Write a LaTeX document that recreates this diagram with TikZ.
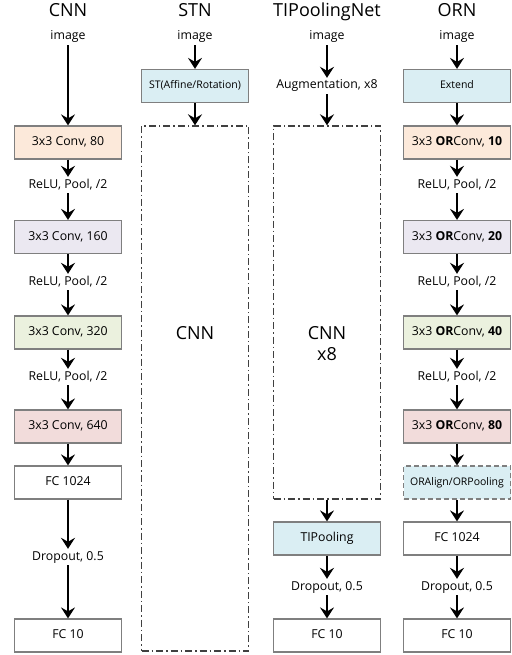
\documentclass[tikz,border=0pt]{standalone}
\usepackage{fontspec}
\setmainfont{Open Sans}
\usepackage{xcolor}
\usepackage{tikz}
\usetikzlibrary{arrows.meta}

\definecolor{boxgray}{HTML}{7F7F7F}
\definecolor{framegray}{HTML}{404040}
\definecolor{convA}{HTML}{FCE9DA}
\definecolor{convB}{HTML}{EBE8F1}
\definecolor{convC}{HTML}{EBF1DE}
\definecolor{convD}{HTML}{F2DCDB}
\definecolor{stBlue}{HTML}{DAEEF3}

\tikzset{
  layer/.style={draw=boxgray, line width=1.2pt, minimum width=107pt, minimum height=33pt,
    inner sep=0pt, font=\fontsize{12.3}{14}\selectfont, text height=9pt, text depth=3pt},
  smalltxt/.style={font=\fontsize{10.5}{12}\selectfont, text height=8pt, text depth=2.5pt},
  lbl/.style={inner sep=2pt, font=\fontsize{12.3}{14}\selectfont, text height=9pt, text depth=3pt},
  title/.style={inner sep=0pt, font=\fontsize{18}{21}\selectfont, text height=13pt, text depth=4pt},
  inner/.style={inner sep=0pt, font=\fontsize{18}{21}\selectfont, align=center},
  frame/.style={draw=framegray, line width=1.4pt, dash pattern=on 7pt off 3pt on 1.5pt off 3pt,
    minimum width=107pt, inner sep=0pt},
  flow/.style={line width=2.7pt, -{Stealth[length=11pt,width=14pt,inset=4pt]}}
}

\begin{document}
\begin{tikzpicture}[x=1pt,y=-1pt]
\useasboundingbox (0,0) rectangle (511,655);

% CNN
\node [title] (cnnT) at (68,12.5) {CNN};
\node [lbl] (cnnImg) at (68,37) {image};
\node [layer, fill=convA] (cnnC1) at (68,142.5) {3x3 Conv, 80};
\node [lbl] (cnnR1) at (68,185) {ReLU, Pool, /2};
\node [layer, fill=convB] (cnnC2) at (68,237) {3x3 Conv, 160};
\node [lbl] (cnnR2) at (68,282) {ReLU, Pool, /2};
\node [layer, fill=convC] (cnnC3) at (68,332.5) {3x3 Conv, 320};
\node [lbl] (cnnR3) at (68,377) {ReLU, Pool, /2};
\node [layer, fill=convD] (cnnC4) at (68,426.5) {3x3 Conv, 640};
\node [layer] (cnnF1) at (68,482.5) {FC 1024};
\node [lbl] (cnnD) at (68,557) {Dropout, 0.5};
\node [layer] (cnnF2) at (68,635.5) {FC 10};

% STN
\node [title] (stnT) at (195,12.5) {STN};
\node [lbl] (stnImg) at (195,37) {image};
\node [layer, smalltxt, fill=stBlue] (stnST) at (195,86) {ST(Affine/Rotation)};
\node [frame, minimum height=525pt] (stnNet) at (195,388.5) {};
\node [inner] (stnLbl) at (195,333) {CNN};

% TIPoolingNet
\node [title] (tipT) at (327,12.5) {TIPoolingNet};
\node [lbl] (tipImg) at (327,37) {image};
\node [lbl] (tipAug) at (327,86) {Augmentation, x8};
\node [frame, minimum height=373pt] (tipNet) at (327,312.5) {};
\node [inner] (tipLbl) at (327,343.5) {CNN\\x8};
\node [layer, fill=stBlue] (tipPool) at (327,538.5) {TIPooling};
\node [lbl] (tipD) at (327,587) {Dropout, 0.5};
\node [layer] (tipF) at (327,635.5) {FC 10};

% ORN
\node [title] (ornT) at (457,12.5) {ORN};
\node [lbl] (ornImg) at (457,37) {image};
\node [layer, smalltxt, fill=stBlue] (ornExt) at (457,86) {Extend};
\node [layer, fill=convA] (ornC1) at (457,142.5) {3x3 \textbf{OR}Conv, \textbf{10}};
\node [lbl] (ornR1) at (457,185) {ReLU, Pool, /2};
\node [layer, fill=convB] (ornC2) at (457,237) {3x3 \textbf{OR}Conv, \textbf{20}};
\node [lbl] (ornR2) at (457,282) {ReLU, Pool, /2};
\node [layer, fill=convC] (ornC3) at (457,332.5) {3x3 \textbf{OR}Conv, \textbf{40}};
\node [lbl] (ornR3) at (457,377) {ReLU, Pool, /2};
\node [layer, fill=convD] (ornC4) at (457,426.5) {3x3 \textbf{OR}Conv, \textbf{80}};
\node [layer, smalltxt, fill=stBlue, dash pattern=on 5pt off 3pt] (ornAlign) at (457,482.5) {ORAlign/ORPooling};
\node [layer] (ornF1) at (457,538.5) {FC 1024};
\node [lbl] (ornD) at (457,587) {Dropout, 0.5};
\node [layer] (ornF2) at (457,635.5) {FC 10};

\foreach \a/\b in {cnnImg/cnnC1, cnnC1/cnnR1, cnnR1/cnnC2, cnnC2/cnnR2, cnnR2/cnnC3,
    cnnC3/cnnR3, cnnR3/cnnC4, cnnC4/cnnF1, cnnF1/cnnD, cnnD/cnnF2,
    stnImg/stnST, stnST/stnNet,
    tipImg/tipAug, tipAug/tipNet, tipNet/tipPool, tipPool/tipD, tipD/tipF,
    ornImg/ornExt, ornExt/ornC1, ornC1/ornR1, ornR1/ornC2, ornC2/ornR2, ornR2/ornC3,
    ornC3/ornR3, ornR3/ornC4, ornC4/ornAlign, ornAlign/ornF1, ornF1/ornD, ornD/ornF2}
  \draw [flow] (\a) -- (\b);
\end{tikzpicture}
\end{document}
